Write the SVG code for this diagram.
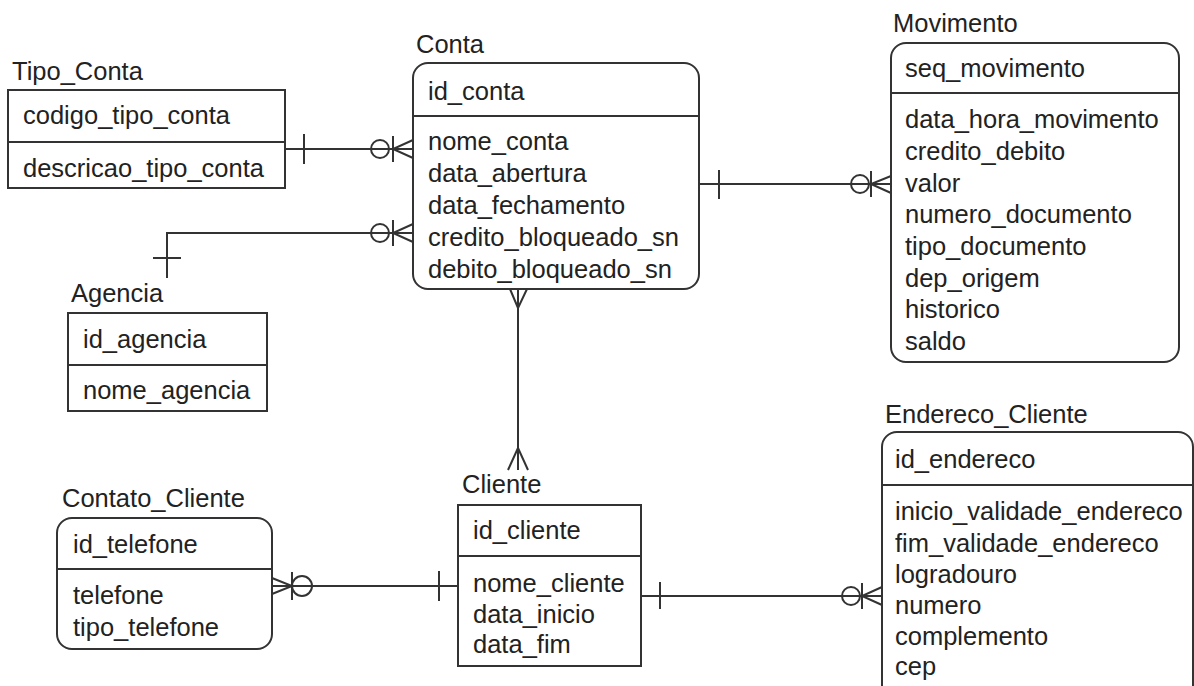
<svg xmlns="http://www.w3.org/2000/svg" width="1194" height="686" viewBox="0 0 1194 686">
<style>
text{font-family:"Liberation Sans",Arial,sans-serif;font-size:25.5px;fill:#222}
.box{fill:#fff;stroke:#333;stroke-width:2}
.div{stroke:#333;stroke-width:2}
.c{stroke:#333;stroke-width:2;fill:none}
</style>
<rect width="1194" height="686" fill="#fff"/>
<g id="connectors">
<!-- Tipo_Conta - Conta -->
<line class="c" x1="285" y1="149" x2="413" y2="149"/>
<line class="c" x1="304" y1="134" x2="304" y2="164"/>
<circle class="c" cx="380" cy="149" r="9" fill="#fff"/>
<line class="c" x1="393" y1="136" x2="393" y2="162"/>
<path class="c" d="M413 140 L393 149 L413 158"/>
<!-- Agencia - Conta -->
<path class="c" d="M413 233 H167 V278"/>
<line class="c" x1="153" y1="258" x2="181" y2="258"/>
<circle class="c" cx="380" cy="233" r="9" fill="#fff"/>
<line class="c" x1="393" y1="220" x2="393" y2="246"/>
<path class="c" d="M413 224 L393 233 L413 242"/>
<!-- Conta - Movimento -->
<line class="c" x1="699" y1="184" x2="891" y2="184"/>
<line class="c" x1="719" y1="170" x2="719" y2="199"/>
<circle class="c" cx="860" cy="184" r="9" fill="#fff"/>
<line class="c" x1="871" y1="171" x2="871" y2="197"/>
<path class="c" d="M891 176 L871 184 L891 193"/>
<!-- Conta - Cliente -->
<line class="c" x1="518" y1="289" x2="518" y2="470"/>
<path class="c" d="M510 289 L518 308 L527 289"/>
<path class="c" d="M508 470 L518 448 L528 470"/>
<!-- Contato_Cliente - Cliente -->
<line class="c" x1="272" y1="586" x2="458" y2="586"/>
<path class="c" d="M272 578 L292 586 L272 594"/>
<line class="c" x1="292" y1="572" x2="292" y2="600"/>
<circle class="c" cx="302" cy="586" r="10" fill="#fff"/>
<line class="c" x1="439" y1="571" x2="439" y2="601"/>
<!-- Cliente - Endereco_Cliente -->
<line class="c" x1="641" y1="596" x2="882" y2="596"/>
<line class="c" x1="660" y1="582" x2="660" y2="609"/>
<circle class="c" cx="851" cy="596" r="9" fill="#fff"/>
<line class="c" x1="862" y1="583" x2="862" y2="609"/>
<path class="c" d="M882 587 L862 596 L882 605"/>
</g>
<g id="Tipo_Conta">
<text x="12" y="80">Tipo_Conta</text>
<rect class="box" x="8" y="90" width="277" height="98"/>
<line class="div" x1="8" y1="142" x2="285" y2="142"/>
<text x="23" y="124">codigo_tipo_conta</text>
<text x="23" y="177">descricao_tipo_conta</text>
</g>
<g id="Conta">
<text x="416" y="53">Conta</text>
<rect class="box" x="413" y="63" width="286" height="226" rx="15"/>
<line class="div" x1="413" y1="116" x2="699" y2="116"/>
<text x="428" y="100">id_conta</text>
<text x="428" y="150">nome_conta</text>
<text x="428" y="182">data_abertura</text>
<text x="428" y="214">data_fechamento</text>
<text x="428" y="246">credito_bloqueado_sn</text>
<text x="428" y="278">debito_bloqueado_sn</text>
</g>
<g id="Movimento">
<text x="893" y="32">Movimento</text>
<rect class="box" x="891" y="43" width="288" height="319" rx="15"/>
<line class="div" x1="891" y1="93" x2="1179" y2="93"/>
<text x="905" y="77">seq_movimento</text>
<text x="905" y="128">data_hora_movimento</text>
<text x="905" y="160">credito_debito</text>
<text x="905" y="192">valor</text>
<text x="905" y="223">numero_documento</text>
<text x="905" y="255">tipo_documento</text>
<text x="905" y="287">dep_origem</text>
<text x="905" y="318">historico</text>
<text x="905" y="350">saldo</text>
</g>
<g id="Agencia">
<text x="71" y="302">Agencia</text>
<rect class="box" x="68" y="313" width="199" height="98"/>
<line class="div" x1="68" y1="365" x2="267" y2="365"/>
<text x="83" y="348">id_agencia</text>
<text x="83" y="399">nome_agencia</text>
</g>
<g id="Contato_Cliente">
<text x="62" y="507">Contato_Cliente</text>
<rect class="box" x="57" y="518" width="215" height="131" rx="15"/>
<line class="div" x1="57" y1="569" x2="272" y2="569"/>
<text x="73" y="553">id_telefone</text>
<text x="73" y="604">telefone</text>
<text x="73" y="636">tipo_telefone</text>
</g>
<g id="Cliente">
<text x="462" y="493">Cliente</text>
<rect class="box" x="458" y="505" width="183" height="161"/>
<line class="div" x1="458" y1="556" x2="641" y2="556"/>
<text x="473" y="539">id_cliente</text>
<text x="473" y="592">nome_cliente</text>
<text x="473" y="623">data_inicio</text>
<text x="473" y="653">data_fim</text>
</g>
<g id="Endereco_Cliente">
<text x="885" y="423">Endereco_Cliente</text>
<rect class="box" x="882" y="432" width="311" height="280" rx="15"/>
<line class="div" x1="882" y1="485" x2="1193" y2="485"/>
<text x="895" y="468">id_endereco</text>
<text x="895" y="520">inicio_validade_endereco</text>
<text x="895" y="552">fim_validade_endereco</text>
<text x="895" y="583">logradouro</text>
<text x="895" y="614">numero</text>
<text x="895" y="645">complemento</text>
<text x="895" y="675">cep</text>
</g>
</svg>
